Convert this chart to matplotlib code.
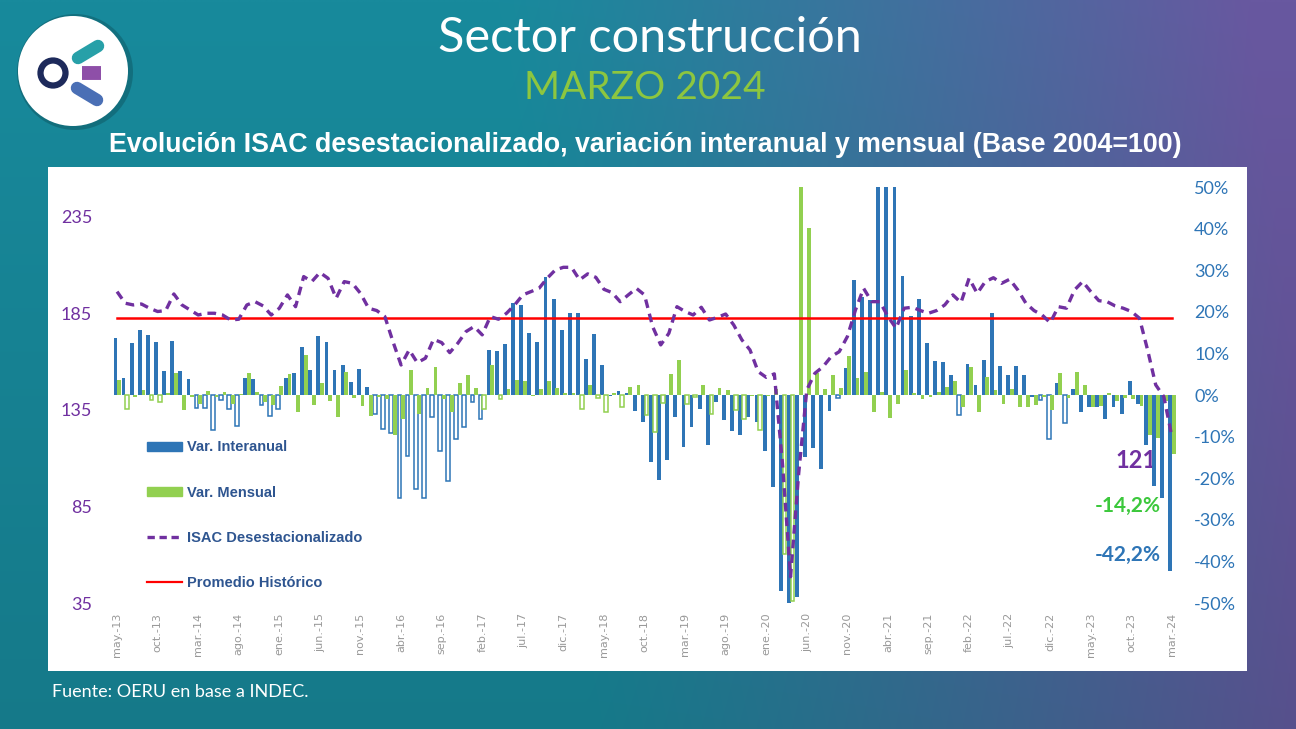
import numpy as np
import matplotlib
matplotlib.use('Agg')
import matplotlib.pyplot as plt
from matplotlib.patches import Circle, Rectangle, Patch
from matplotlib.lines import Line2D
from matplotlib.ticker import FuncFormatter

# ---- datos (may-13 .. mar-24) ----
MESES = ['ene.', 'feb.', 'mar.', 'abr.', 'may.', 'jun.', 'jul.', 'ago.', 'sep.', 'oct.', 'nov.', 'dic.']
meses = []
for k in range(131):
    meses.append(MESES[(4 + k) % 12] + '-' + str(13 + (4 + k) // 12))

var_interanual = [
    13.8, 4.0, 12.6, 15.7, 14.5, 12.8, 5.8, 13.1, 5.8, 3.8,
    -3.1, -3.1, -8.4, -1.1, -3.3, -7.5, 4.0, 3.8, -2.3, -5.0,
    -3.3, 4.0, 5.4, 11.6, 6.0, 14.3, 12.8, 6.0, 7.2, 3.2,
    6.2, 2.0, -4.5, -8.1, -9.2, -24.7, -14.7, -22.5, -24.7, -5.2,
    -13.5, -20.7, -10.5, -7.7, -1.8, -5.7, 10.8, 10.6, 12.3, 22.0,
    21.6, 15.0, 12.8, 28.4, 23.0, 15.6, 19.8, 19.6, 8.6, 14.7,
    7.1, -0.2, 1.0, 0.6, -3.8, -6.5, -16.0, -20.5, -15.7, -5.3,
    -12.4, -7.7, -3.4, -11.9, -1.8, -6.0, -8.7, -9.5, -5.3, -6.4,
    -13.5, -22.1, -47.2, -75.6, -48.6, -14.8, -12.7, -17.7, -3.8, -0.8,
    6.4, 27.6, 23.6, 22.8, 55.0, 163.5, 75.0, 28.6, 19.0, 23.0,
    12.6, 8.2, 7.9, 4.7, -4.9, 7.5, 2.3, 8.4, 19.6, 7.0,
    4.7, 7.0, 4.7, -0.4, -1.2, -10.5, 2.8, -6.7, 1.5, -4.0,
    -2.9, -2.9, -5.7, -3.0, -4.5, 3.4, -2.1, -12.1, -21.9, -24.7,
    -42.2]

var_mensual = [
    3.5, -3.4, -0.4, 1.2, -1.3, -1.8, 0.6, 5.4, -3.6, -0.6,
    -2.2, 1.0, -0.4, 0.8, -2.1, 0.2, 5.2, 0.8, -1.7, -2.4,
    2.2, 5.0, -4.2, 9.6, -2.4, 2.8, -1.4, -5.3, 5.5, -0.8,
    -2.6, -5.0, -0.4, -1.0, -9.5, -5.8, 6.0, -4.6, 1.6, 6.7,
    -1.0, -4.1, 2.8, 4.7, 1.8, -3.4, 7.2, -1.0, 1.5, 3.5,
    3.3, -0.2, 1.5, 3.3, 1.8, 0.6, 0.6, -3.4, 2.3, -0.8,
    -4.0, 0.6, -2.8, 2.0, 2.3, -4.9, -8.9, -2.0, 5.0, 8.4,
    -2.2, -0.6, 2.3, -4.5, 1.8, 1.1, -3.7, -5.8, -0.2, -8.3,
    -0.2, 1.5, -38.3, -49.5, 60.0, 40.2, 5.4, 1.4, 4.7, 1.8,
    9.4, 4.2, 5.5, -4.1, 0.8, -5.5, -2.1, 5.9, 0.6, -0.9,
    -0.6, 0.8, 2.0, 3.4, -2.9, 6.8, -4.2, 4.3, 1.1, -2.1,
    1.5, -2.9, -2.9, -2.4, -0.4, -3.6, 5.4, -0.8, 5.5, 2.3,
    -2.9, -2.6, 0.6, -1.4, -0.8, -1.0, -2.6, -9.7, -10.3, -1.5,
    -14.2]

isac = [
    196.3, 190.3, 189.4, 189.9, 187.7, 186.0, 186.5, 195.1, 189.4, 186.8,
    184.2, 185.1, 185.1, 184.2, 181.6, 182.0, 189.4, 191.1, 188.9, 184.2,
    187.7, 194.6, 188.5, 204.1, 201.5, 206.2, 203.2, 192.9, 201.5, 200.6,
    195.4, 187.7, 186.5, 183.4, 170.4, 158.3, 166.1, 159.5, 161.8, 171.6,
    169.9, 164.7, 169.6, 175.6, 178.2, 173.9, 183.4, 182.0, 185.1, 189.4,
    194.6, 196.3, 198.0, 203.2, 207.5, 208.9, 208.9, 202.4, 205.5, 203.7,
    197.5, 195.8, 191.1, 194.6, 198.0, 194.6, 178.2, 168.7, 174.7, 188.5,
    186.0, 184.2, 188.2, 181.6, 183.0, 184.7, 179.0, 171.3, 166.1, 154.9,
    151.9, 153.7, 107.4, 48.6, 102.0, 145.4, 154.0, 157.4, 162.6, 165.2,
    173.0, 186.8, 198.0, 191.1, 191.1, 183.4, 177.3, 187.7, 188.2, 186.5,
    185.1, 186.5, 189.4, 194.6, 190.6, 203.2, 195.4, 201.5, 203.5, 200.6,
    202.7, 197.2, 190.3, 186.5, 184.2, 180.2, 188.5, 187.7, 197.2, 201.5,
    196.3, 191.6, 191.1, 188.9, 187.7, 186.0, 182.5, 166.1, 148.0, 141.9,
    121.0]

promedio_historico = 182.5

# ---- estilos ----
AZUL = '#2e75b6'
VERDE = '#92d050'
VIOLETA = '#7030a0'
ROJO = '#ff0000'
# barras que Excel dibuja "huecas" (invertir si es negativo)
huecas_azul = set(range(0, 46)) | {89, 104, 114, 115, 117}
huecas_verde = {1, 4, 5, 45, 47, 57, 59, 60, 62, 65, 66, 67, 70, 71, 73, 76, 77, 79, 82, 83}

W, H = 1296, 729
fig = plt.figure(figsize=(W / 100, H / 100), dpi=100)

# fondo degradado
bg = fig.add_axes([0, 0, 1, 1])
bg.set_xlim(0, W)
bg.set_ylim(H, 0)
bg.axis('off')
gx = np.linspace(0, 1, 300)[None, :]
gy = np.linspace(0, 1, 170)[:, None]
t = np.clip((gx - 0.42) / 0.58 + 0.12 * (0.5 - gy), 0, 1) ** 1.1
teal = np.array([24, 138, 156]) / 255
purp = np.array([104, 88, 160]) / 255
grad = teal[None, None, :] * (1 - t[..., None]) + purp[None, None, :] * t[..., None]
grad = grad * (1 - 0.12 * gy[..., None])
bg.imshow(np.clip(grad, 0, 1), extent=[0, W, H, 0], aspect='auto', interpolation='bilinear')

bg.add_patch(Rectangle((48, 167), 1199, 504, facecolor='white', edgecolor='none'))

# logo
bg.add_patch(Circle((75, 72), 58, facecolor='black', alpha=0.18, edgecolor='none'))
bg.add_patch(Circle((73, 71), 55, facecolor='white', edgecolor='none'))
bg.add_patch(Circle((53, 73), 12.5, facecolor='none', edgecolor='#1d2a5b', linewidth=4.5))
bg.plot([78, 98], [58, 46], color='#27a0a8', lw=9, solid_capstyle='round')
bg.plot([82, 101], [72.5, 72.5], color='#8e4fa8', lw=10, solid_capstyle='butt')
bg.plot([77, 97], [88, 100], color='#4a6fb5', lw=9, solid_capstyle='round')

bg.text(650, 38, 'Sector construcción', color='white', fontsize=35, family='Lato',
        ha='center', va='center')
bg.text(645, 88, 'MARZO 2024', color='#8dc63f', fontsize=28, family='Lato',
        ha='center', va='center')
bg.text(645, 145, 'Evolución ISAC desestacionalizado, variación interanual y mensual (Base 2004=100)',
        color='white', fontsize=19.3, fontweight='bold', family='Liberation Sans',
        ha='center', va='center')
bg.text(52, 692, 'Fuente: OERU en base a INDEC.', color='white', fontsize=13, family='Lato',
        ha='left', va='center')

# ---- grafico ----
x = np.arange(len(meses))
ax = fig.add_axes([113 / W, 1 - 603 / H, 1063 / W, 416 / H])
ax.patch.set_visible(False)

for i, v in enumerate(var_interanual):
    if v < 0 and i in huecas_azul:
        ax.bar(x[i] - 0.2, v, width=0.47, facecolor='white', edgecolor=AZUL, linewidth=1.1)
    else:
        ax.bar(x[i] - 0.2, v, width=0.47, color=AZUL)
for i, v in enumerate(var_mensual):
    if v < 0 and i in huecas_verde:
        ax.bar(x[i] + 0.25, v, width=0.47, facecolor='white', edgecolor=VERDE, linewidth=1.1)
    else:
        ax.bar(x[i] + 0.25, v, width=0.47, color=VERDE)

ax.set_xlim(-0.5, len(meses) - 0.5)
ax.set_ylim(-50, 50)
ax.set_xticks(x[::5])
ax.set_xticklabels(meses[::5], rotation=90, fontsize=8, color='#999999')
ax.tick_params(axis='x', length=0, pad=7)
for s in ax.spines.values():
    s.set_visible(False)

ax2 = ax.twinx()
ax2.plot(x, [promedio_historico] * len(x), color=ROJO, lw=1.8)
ax2.plot(x, isac, color=VIOLETA, lw=2.4, linestyle=(0, (2.6, 1.8)))
ax2.set_ylim(35, 250.5)
for s in ax2.spines.values():
    s.set_visible(False)

# eje derecho: porcentajes de las barras
ax.yaxis.tick_right()
ax.set_yticks(np.arange(-50, 51, 10))
ax.yaxis.set_major_formatter(FuncFormatter(lambda v, p: '{:.0f}%'.format(v)))
ax.tick_params(axis='y', length=0, pad=13, labelsize=13, labelcolor=AZUL)
for lab in ax.get_yticklabels():
    lab.set_family('Lato')

# eje izquierdo: indice ISAC
ax2.yaxis.tick_left()
ax2.set_yticks([35, 85, 135, 185, 235])
ax2.tick_params(axis='y', length=0, pad=15, labelsize=13, labelcolor=VIOLETA)
for lab in ax2.get_yticklabels():
    lab.set_family('Lato')

# etiquetas del ultimo dato
bg.text(1136, 460, '{:.0f}'.format(isac[-1]), color=VIOLETA, fontsize=17, fontweight='bold',
        family='Lato', ha='center', va='center')
bg.text(1128, 506, '{:.1f}%'.format(var_mensual[-1]).replace('.', ','), color='#3cc83c',
        fontsize=15, fontweight='bold', family='Lato', ha='center', va='center')
bg.text(1128, 555, '{:.1f}%'.format(var_interanual[-1]).replace('.', ','), color=AZUL,
        fontsize=15, fontweight='bold', family='Lato', ha='center', va='center')

handles = [Patch(color=AZUL), Patch(color=VERDE),
           Line2D([], [], color=VIOLETA, lw=2.4, linestyle=(0, (2.2, 1.4))),
           Line2D([], [], color=ROJO, lw=1.6)]
labels = ['Var. Interanual', 'Var. Mensual', 'ISAC Desestacionalizado', 'Promedio Histórico']
fig.legend(handles, labels, loc='upper left', bbox_to_anchor=(140 / W, 1 - 433 / H),
           frameon=False, handlelength=2.4, handleheight=0.6, handletextpad=0.3,
           labelspacing=2.15, borderpad=0, labelcolor='#2e5590',
           prop={'family': 'Liberation Sans', 'weight': 'bold', 'size': 10.5})

fig.savefig('out.png', dpi=100)
